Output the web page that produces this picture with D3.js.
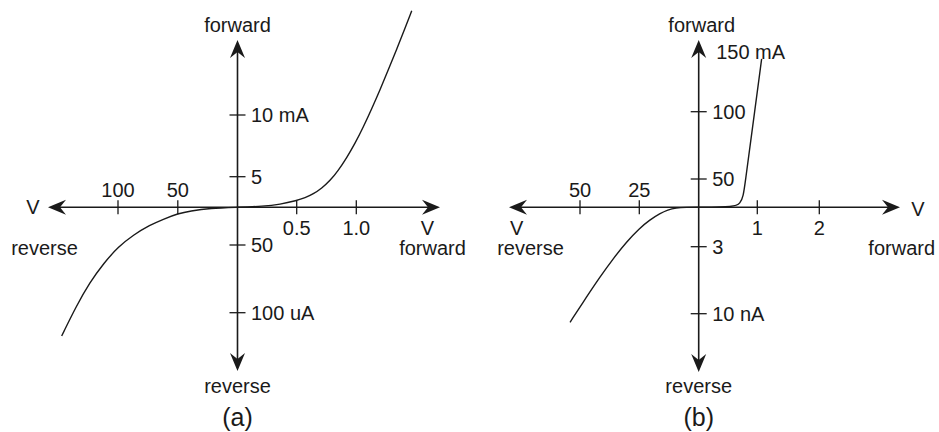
<!DOCTYPE html>
<html><head><meta charset="utf-8">
<script src="https://cdn.jsdelivr.net/npm/d3@7"></script>
<style>
body{margin:0;background:#fff}
svg{display:block}
text{font-family:"Liberation Sans",Arial,Helvetica,sans-serif;font-size:20px;fill:#1a1a1a}
</style>
</head><body>
<svg id="c" width="939" height="432"></svg>
<script>
// ---------- panel (a) data ----------
const aXTicks = [-100, -50, 0.5, 1.0];
const aXTickLabels = ["100", "50", "0.5", "1.0"];
const aYTicks = [10, 5, -0.05, -0.1];              // mA (negative = reverse, in mA)
const aYTickLabels = ["10 mA", "5", "50", "100 uA"];
const aVolts   = [-147.1, -134.5, -123.4, -112.3, -99.7, -87.2, -73.2, -62.4, -49.6, -39.8, -23.0, 0, 0.218, 0.359, 0.5, 0.57, 0.639, 0.71, 0.779, 0.849, 0.919, 0.989, 1.059, 1.129, 1.199, 1.268, 1.339, 1.409, 1.465];
const aCurrent = [-0.1172, -0.0945, -0.0775, -0.0638, -0.0513, -0.0367, -0.0235, -0.0159, -0.0082, -0.0049, -0.0013, 0, 0.16, 0.47, 1.1, 1.55, 2.17, 3.12, 4.33, 5.51, 6.53, 7.69, 9.03, 10.5, 12.04, 13.65, 15.33, 17.03, 18.44];

// ---------- panel (b) data ----------
const bXTicks = [-50, -25, 1, 2];
const bXTickLabels = ["50", "25", "1", "2"];
const bYTicks = [100, 50, -3e-6, -10e-6];           // mA (reverse in nA expressed as mA)
const bYTickLabels = ["100", "50", "3", "10 nA"];
const bTopLabel = "150 mA";
const bVolts   = [-54.2, -47.1, -41.5, -35.9, -30.3, -25, -20.5, -16.3, -13.0, -9.6, -5.3, 0, 0.62, 0.705, 0.761, 0.799, 0.875, 1.07];
const bCurrent = [-10.9e-6, -8.19e-6, -6.13e-6, -4.21e-6, -2.62e-6, -1.61e-6, -0.95e-6, -0.47e-6, -0.19e-6, -0.046e-6, 0, 0, 0.5, 7, 18.7, 48.2, 74, 139.2];

const svg = d3.select("#c");
const ink = "#1a1a1a";

const panels = [
  {
    x: d3.scaleLinear().domain([-100, -50, 0, 0.5, 1.0]).range([118, 177.8, 237.5, 296.7, 356.3]),
    y: d3.scaleLinear().domain([-0.1, -0.05, 0, 5, 10]).range([312.7, 245, 207.3, 176.7, 115]),
    xLeft: 48, xRight: 440, yTop: 40, yBottom: 371,
    xTicks: aXTicks, xTickLabels: aXTickLabels,
    yTicks: aYTicks, yTickLabels: aYTickLabels,
    volts: aVolts, current: aCurrent,
    leftV: [33, 207], leftRev: [44.5, 248], rightV: [427.5, 228], rightFwd: [432.5, 248],
    topFwdDx: 0, caption: "(a)", topLabel: null
  },
  {
    x: d3.scaleLinear().domain([-50, -25, 0, 1, 2]).range([580, 639.3, 698.7, 757.3, 819.3]),
    y: d3.scaleLinear().domain([-10e-6, -3e-6, 0, 50, 100]).range([313.7, 246.7, 207.3, 179, 111.7]),
    xLeft: 509, xRight: 900, yTop: 40, yBottom: 372,
    xTicks: bXTicks, xTickLabels: bXTickLabels,
    yTicks: bYTicks, yTickLabels: bYTickLabels,
    volts: bVolts, current: bCurrent,
    leftV: [516.7, 228], leftRev: [530.5, 248], rightV: [918, 209], rightFwd: [901.7, 248],
    topFwdDx: 3, caption: "(b)", topLabel: bTopLabel
  }
];

function arrow(g, x, y, dir) {
  const L = 18, W = 7.5, N = 12;
  const p = [[0, 0], [-L, -W], [-N, 0], [-L, W]];
  const rot = {r: 0, l: 180, u: -90, d: 90}[dir];
  g.append("path")
    .attr("d", "M" + p.map(q => q.join(",")).join("L") + "Z")
    .attr("transform", `translate(${x},${y}) rotate(${rot})`)
    .attr("fill", ink);
}

panels.forEach(P => {
  const g = svg.append("g");
  const x0 = P.x(0), y0 = P.y(0);

  g.append("line").attr("x1", P.xLeft + 10).attr("x2", P.xRight - 10).attr("y1", y0).attr("y2", y0)
    .attr("stroke", ink).attr("stroke-width", 1.6);
  g.append("line").attr("x1", x0).attr("x2", x0).attr("y1", P.yTop + 10).attr("y2", P.yBottom - 10)
    .attr("stroke", ink).attr("stroke-width", 1.6);
  arrow(g, P.xLeft, y0, "l");
  arrow(g, P.xRight, y0, "r");
  arrow(g, x0, P.yTop, "u");
  arrow(g, x0, P.yBottom, "d");

  P.xTicks.forEach((v, i) => {
    const xx = P.x(v);
    g.append("line").attr("x1", xx).attr("x2", xx).attr("y1", y0 - 7).attr("y2", y0 + 7)
      .attr("stroke", ink).attr("stroke-width", 1.3);
    g.append("text").attr("x", xx).attr("y", v < 0 ? y0 - 17 : y0 + 21)
      .attr("text-anchor", "middle").attr("dy", "0.35em").text(P.xTickLabels[i]);
  });
  P.yTicks.forEach((v, i) => {
    const yy = P.y(v);
    g.append("line").attr("x1", x0 - 8).attr("x2", x0 + 8).attr("y1", yy).attr("y2", yy)
      .attr("stroke", ink).attr("stroke-width", 1.3);
    g.append("text").attr("x", x0 + 13.5).attr("y", yy).attr("dy", "0.35em").text(P.yTickLabels[i]);
  });
  if (P.topLabel) {
    g.append("text").attr("x", x0 + 17.5).attr("y", P.yTop + 12).attr("dy", "0.35em").text(P.topLabel);
  }

  const txt = (x, y, s) => g.append("text").attr("x", x).attr("y", y).attr("dy", "0.35em")
    .attr("text-anchor", "middle").text(s);
  txt(x0 + P.topFwdDx, 25, "forward");
  txt(x0, 386, "reverse");
  g.append("text").attr("x", x0).attr("y", 426).attr("text-anchor", "middle")
    .style("font-size", "25px").text(P.caption);
  txt(P.leftV[0], P.leftV[1], "V");
  txt(P.leftRev[0], P.leftRev[1], "reverse");
  txt(P.rightV[0], P.rightV[1], "V");
  txt(P.rightFwd[0], P.rightFwd[1], "forward");

  const pts = P.volts.map((v, i) => [v, P.current[i]]);
  const line = d3.line().x(d => P.x(d[0])).y(d => P.y(d[1])).curve(d3.curveBasis);
  g.append("path").attr("d", line(pts)).attr("fill", "none")
    .attr("stroke", ink).attr("stroke-width", 1.4);
});
</script>
</body></html>
